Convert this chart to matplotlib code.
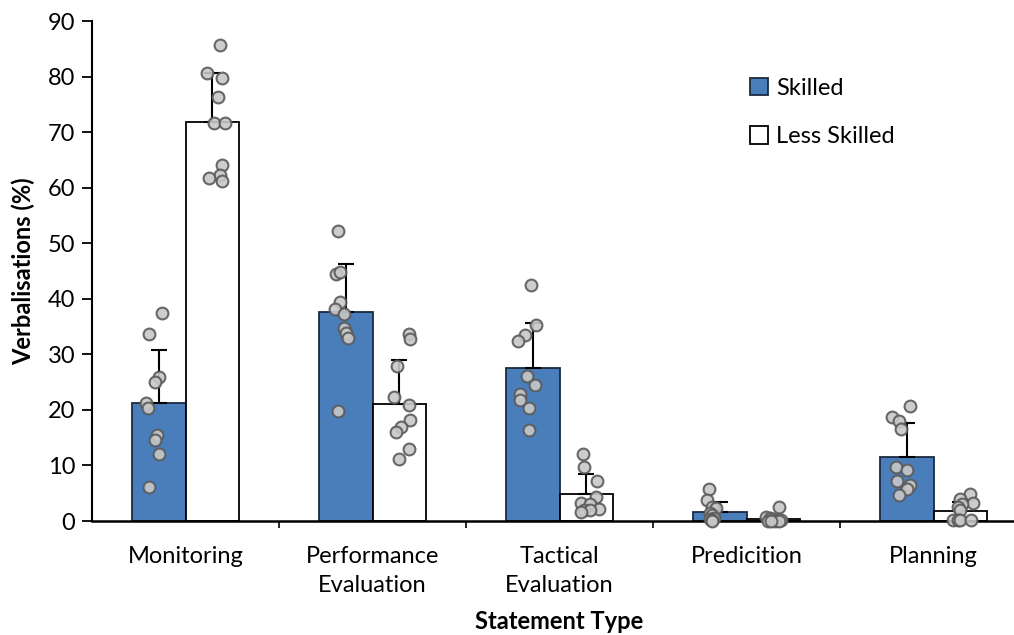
import numpy as np
import matplotlib.pyplot as plt

categories = ['Monitoring', 'Performance\nEvaluation', 'Tactical\nEvaluation', 'Predicition', 'Planning']

skilled_mean = [21.2, 37.7, 27.6, 1.7, 11.6]
less_mean = [71.8, 21.0, 4.8, 0.3, 1.8]
skilled_sd = [9.6, 8.6, 8.0, 1.8, 6.1]
less_sd = [8.8, 8.0, 3.6, 0.4, 1.6]

# individual participants, per category
skilled_pts = [
    [37.4, 33.7, 26.0, 25.0, 21.3, 20.4, 15.5, 14.6, 12.0, 6.2],
    [52.2, 44.4, 44.9, 39.5, 38.2, 37.2, 34.7, 33.8, 32.9, 19.8],
    [42.5, 35.3, 33.5, 32.4, 26.1, 24.4, 22.8, 21.8, 20.4, 16.3],
    [5.8, 3.7, 2.6, 2.4, 1.5, 1.0, 0.6, 0.3, 0.1, 0.0],
    [20.7, 18.8, 18.0, 16.6, 9.8, 9.1, 7.2, 6.4, 5.8, 4.7],
]
less_pts = [
    [85.7, 80.7, 79.8, 76.3, 71.6, 71.7, 64.1, 62.2, 61.7, 61.2],
    [33.6, 32.7, 27.9, 22.3, 20.9, 18.1, 16.9, 16.0, 12.9, 11.1],
    [12.1, 9.7, 7.2, 4.3, 3.2, 3.0, 2.1, 1.9, 1.9, 1.7],
    [2.5, 0.7, 0.5, 0.3, 0.2, 0.1, 0.0, 0.0, 0.0, 0.0],
    [4.8, 3.9, 3.2, 3.0, 2.6, 2.0, 0.2, 0.2, 0.2, 0.2],
]

# horizontal scatter of the dots around each bar centre
skilled_jit = [
    [0.02, -0.05, 0.0, -0.02, -0.07, -0.06, -0.01, -0.02, 0.0, -0.05],
    [-0.04, -0.05, -0.03, -0.03, -0.06, -0.01, -0.01, 0.0, 0.01, -0.04],
    [-0.01, 0.02, -0.04, -0.08, -0.03, 0.01, -0.07, -0.07, -0.02, -0.02],
    [-0.06, -0.07, -0.04, -0.02, -0.05, -0.04, -0.03, -0.05, -0.04, -0.04],
    [0.02, -0.08, -0.04, -0.03, -0.06, 0.0, -0.05, 0.02, 0.0, -0.04],
]
less_jit = [
    [0.04, -0.03, 0.05, 0.03, 0.01, 0.07, 0.05, 0.04, -0.02, 0.05],
    [0.05, 0.06, -0.01, -0.03, 0.05, 0.06, 0.01, -0.02, 0.05, 0.0],
    [-0.02, -0.01, 0.06, 0.05, -0.03, 0.02, 0.07, -0.01, 0.02, -0.03],
    [0.03, -0.04, -0.02, 0.0, 0.02, 0.04, -0.03, 0.01, 0.03, -0.01],
    [0.05, 0.0, 0.07, 0.01, -0.01, 0.0, -0.04, -0.01, 0.0, 0.06],
]

plt.rcParams['font.family'] = ['Lato', 'DejaVu Sans']
fs = 17

fig = plt.figure(figsize=(10.14, 6.35), dpi=100)
ax = fig.add_axes([92 / 1014, 114 / 635, 935 / 1014, 500 / 635])

x = np.arange(len(categories))
w = 0.286
off = 0.143

ax.bar(x - off, skilled_mean, w, color='#4a7ebb', edgecolor='#1a2a40', linewidth=1.3,
       label='Skilled', zorder=2)
ax.bar(x + off, less_mean, w, color='white', edgecolor='black', linewidth=1.3,
       label='Less Skilled', zorder=2)

ax.errorbar(x - off, skilled_mean, yerr=[np.zeros(5), skilled_sd], fmt='none',
            ecolor='black', elinewidth=1.5, capsize=6, capthick=1.5, zorder=3)
ax.errorbar(x + off, less_mean, yerr=[np.zeros(5), less_sd], fmt='none',
            ecolor='black', elinewidth=1.5, capsize=6, capthick=1.5, zorder=3)

for i in range(len(categories)):
    ax.plot(x[i] - off + np.array(skilled_jit[i]), skilled_pts[i], 'o', ms=8.5,
            mfc='#c8c8c8', mec='#5a5a5a', mew=1.5, alpha=0.9, zorder=4, clip_on=False)
    ax.plot(x[i] + off + np.array(less_jit[i]), less_pts[i], 'o', ms=8.5,
            mfc='#c8c8c8', mec='#5a5a5a', mew=1.5, alpha=0.9, zorder=4, clip_on=False)

ax.set_xlim(-0.5, 4.5)
ax.set_ylim(0, 90)
ax.set_yticks(np.arange(0, 91, 10))
ax.set_xticks(x)
ax.set_xticklabels(categories, fontsize=fs, linespacing=1.5)
ax.set_xticks(np.arange(0.5, 4.5, 1), minor=True)
ax.tick_params(axis='x', which='major', length=0, pad=18)
ax.tick_params(axis='x', which='minor', length=5, width=1.2)
ax.tick_params(axis='y', labelsize=fs, length=7, width=1.3, pad=5)

for s in ['top', 'right']:
    ax.spines[s].set_visible(False)
ax.spines['left'].set_linewidth(1.5)
ax.spines['bottom'].set_linewidth(1.8)

ax.set_ylabel('Verbalisations (%)', fontsize=fs, fontweight='bold', labelpad=9)
ax.set_xlabel('Statement Type', fontsize=fs, fontweight='bold', labelpad=10)

leg = ax.legend(loc='upper left', bbox_to_anchor=(0.694, 0.905), frameon=False, fontsize=fs,
                handlelength=0.75, handleheight=0.75, handletextpad=0.35, labelspacing=1.15,
                borderaxespad=0)

fig.savefig('out.png', dpi=100)
